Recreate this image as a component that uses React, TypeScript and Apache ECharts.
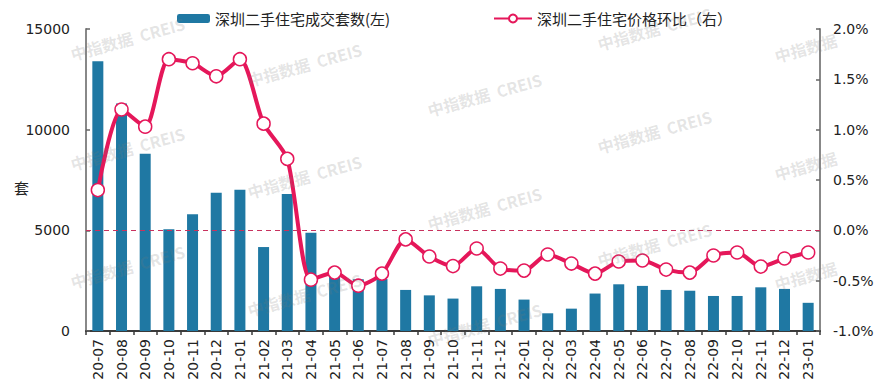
import React, { useEffect, useRef } from "react";
import * as echarts from "echarts";

const categories = [
  "20-07", "20-08", "20-09", "20-10", "20-11", "20-12",
  "21-01", "21-02", "21-03", "21-04", "21-05", "21-06", "21-07", "21-08", "21-09", "21-10", "21-11", "21-12",
  "22-01", "22-02", "22-03", "22-04", "22-05", "22-06", "22-07", "22-08", "22-09", "22-10", "22-11", "22-12",
  "23-01",
];

const volumes = [
  13400, 11300, 8800, 5050, 5800, 6870,
  7020, 4170, 6800, 4880, 2700, 2570, 2580, 2040, 1770, 1610, 2220, 2090,
  1560, 880, 1110, 1860, 2320, 2240, 2040, 2000, 1740, 1740, 2170, 2090,
  1400,
];

const priceMoM = [
  0.40, 1.20, 1.03, 1.70, 1.66, 1.53,
  1.70, 1.06, 0.71, -0.49, -0.42, -0.55, -0.43, -0.09, -0.26, -0.355, -0.18, -0.38,
  -0.40, -0.24, -0.33, -0.43, -0.31, -0.30, -0.39, -0.42, -0.25, -0.22, -0.36, -0.28,
  -0.22,
];

const volumeName = "深圳二手住宅成交套数(左)";
const priceName = "深圳二手住宅价格环比（右）";

const watermarkSpots: [number, number, string][] = [
  [73, 62, "中指数据  CREIS"],
  [250, 88, "中指数据  CREIS"],
  [430, 118, "中指数据  CREIS"],
  [600, 52, "中指数据  CREIS"],
  [777, 64, "中指数据"],
  [73, 172, "中指数据  CREIS"],
  [250, 200, "中指数据  CREIS"],
  [430, 232, "中指数据  CREIS"],
  [600, 155, "中指数据  CREIS"],
  [777, 182, "中指数据"],
  [73, 290, "中指数据  CREIS"],
  [250, 318, "中指数据  CREIS"],
  [430, 348, "中指数据  CREIS"],
  [600, 268, "中指数据  CREIS"],
  [777, 292, "中指数据"],
];

const NUM_FONT = "'DejaVu Sans', sans-serif";
const CJK_FONT = "'Noto Sans CJK SC', sans-serif";
const BAR_COLOR = "#1f78a3";
const LINE_COLOR = "#e5175a";

export default function App() {
  const ref = useRef<HTMLDivElement>(null);

  useEffect(() => {
    if (!ref.current) return;
    const chart = echarts.init(ref.current, null, { renderer: "svg" });
    chart.setOption({
      animation: false,
      backgroundColor: "#ffffff",
      grid: { left: 86, right: 66, top: 29, bottom: 60, containLabel: false },
      legend: [
        {
          data: [volumeName],
          left: 172,
          top: 6,
          itemWidth: 33,
          itemHeight: 9,
          itemGap: 6,
          textStyle: { fontSize: 15, color: "#222", fontFamily: CJK_FONT },
        },
        {
          data: [priceName],
          left: 488,
          top: 6,
          itemWidth: 38,
          itemHeight: 10,
          textStyle: { fontSize: 15, color: "#222", fontFamily: CJK_FONT },
        },
      ],
      xAxis: {
        type: "category",
        data: categories,
        boundaryGap: true,
        axisLine: { show: true, lineStyle: { color: "#3a3a3a", width: 2 } },
        axisTick: { show: true, inside: false, length: 4, alignWithLabel: false, lineStyle: { color: "#3a3a3a", width: 1.5 } },
        axisLabel: {
          rotate: 90,
          interval: 0,
          margin: 8,
          fontSize: 14,
          color: "#222",
          fontFamily: NUM_FONT,
        },
      },
      yAxis: [
        {
          type: "value",
          min: 0,
          max: 15000,
          interval: 5000,
          splitLine: { show: false },
          axisLine: { show: true, lineStyle: { color: "#888", width: 2 } },
          axisTick: { show: true, inside: true, length: 4, lineStyle: { color: "#666", width: 1.5 } },
          axisLabel: {
            margin: 16,
            fontSize: 14,
            color: "#222",
            fontFamily: NUM_FONT,
            formatter: (v: number) => String(v),
          },
        },
        {
          type: "value",
          min: -1,
          max: 2,
          interval: 0.5,
          position: "right",
          splitLine: { show: false },
          axisLine: { show: true, lineStyle: { color: "#888", width: 2 } },
          axisTick: { show: true, inside: true, length: 4, lineStyle: { color: "#666", width: 1.5 } },
          axisLabel: {
            margin: 13,
            fontSize: 14,
            color: "#222",
            fontFamily: NUM_FONT,
            formatter: (v: number) => v.toFixed(1) + "%",
          },
        },
      ],
      series: [
        {
          name: volumeName,
          type: "bar",
          yAxisIndex: 0,
          data: volumes,
          barWidth: 11,
          itemStyle: { color: BAR_COLOR },
          z: 2,
        },
        {
          name: priceName,
          type: "line",
          yAxisIndex: 1,
          data: priceMoM,
          smooth: 0.25,
          symbol: "circle",
          symbolSize: 13,
          itemStyle: { color: "#ffffff", borderColor: LINE_COLOR, borderWidth: 1.5 },
          lineStyle: { color: LINE_COLOR, width: 4 },
          z: 4,
          markLine: {
            silent: true,
            symbol: "none",
            label: { show: false },
            lineStyle: { color: "#c8325e", type: [5, 4], width: 1.2 },
            data: [{ yAxis: 0 }],
          },
        },
      ],
      graphic: [
        {
          type: "text",
          left: 14,
          top: 180,
          style: { text: "套", fontSize: 15, fill: "#222", fontFamily: CJK_FONT },
        },
        ...watermarkSpots.map(([x, y, t]) => ({
          type: "text",
          x,
          y,
          rotation: 0.27,
          silent: true,
          z: 10,
          style: {
            text: t,
            fontSize: 16,
            fontWeight: "bold",
            fontFamily: CJK_FONT,
            fill: "rgba(120,120,120,0.2)",
            textAlign: "left",
            textVerticalAlign: "bottom",
          },
        })),
      ],
    });
    return () => chart.dispose();
  }, []);

  return <div ref={ref} style={{ width: 886, height: 391, position: "absolute", left: 0, top: 0 }} />;
}
